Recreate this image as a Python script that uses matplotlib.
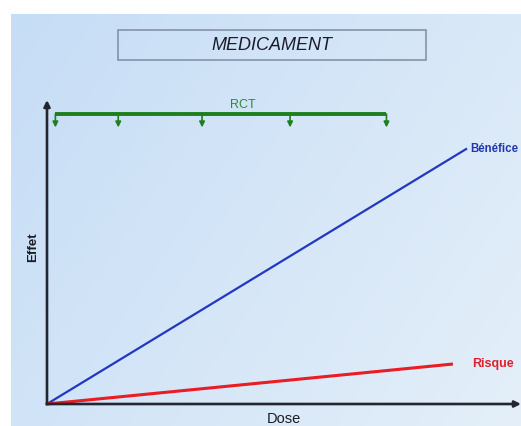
import numpy as np
import matplotlib
matplotlib.use("Agg")
import matplotlib.pyplot as plt
from matplotlib.patches import Rectangle
from matplotlib.colors import to_rgb

plt.rcParams['font.family'] = ['Liberation Sans', 'DejaVu Sans']

# Curves (dose, effect) endpoints starting from the origin
benefit_dose = [0.0, 10.0]
benefit_effect = [0.0, 8.0]
risk_dose = [0.0, 9.65]
risk_effect = [0.0, 1.25]

# Doses studied in randomised controlled trials
rct_doses = [0.2, 1.7, 3.7, 5.8, 8.1]
rct_level = 9.1
rct_drop = 0.42

title = "MEDICAMENT"
x_label = "Dose"
y_label = "Effet"

W, H = 521, 426
fig = plt.figure(figsize=(W / 100, H / 100), dpi=100)
fig.patch.set_facecolor("white")

# Panel background with a soft blue gradient
bg = fig.add_axes([11 / W, 0, 1 - 11 / W, (H - 14) / H])
bg.set_axis_off()
ny, nx = 200, 260
u = np.linspace(0, 1, nx)[None, :]
v = np.linspace(0, 1, ny)[:, None]
t = np.clip(0.65 * u + 0.35 * v, 0, 1)
c0 = np.array(to_rgb("#c6ddf6"))
c1 = np.array(to_rgb("#e4eff9"))
img = c0[None, None, :] + (c1 - c0)[None, None, :] * t[:, :, None]
bg.imshow(img, aspect="auto", extent=[0, 1, 0, 1], origin="upper")
bg.set_xlim(0, 1)
bg.set_ylim(0, 1)

# Title box
fig.patches.append(Rectangle((118 / W, 1 - 60 / H), 308 / W, 30 / H,
                             transform=fig.transFigure, facecolor="none",
                             edgecolor="#8593a8", linewidth=1.2))
fig.text(272 / W, 1 - 45.5 / H, title, ha="center", va="center",
         fontsize=13, style="italic", color="#1c1c2c")

# Main axes: origin at the arrow corner
ax = fig.add_axes([47 / W, (H - 404) / H, (W - 47) / W, (404 - 100) / H])
ax.patch.set_alpha(0)
ax.set_xlim(0, 11.31)
ax.set_ylim(0, 9.54)
for s in ax.spines.values():
    s.set_visible(False)
ax.set_xticks([])
ax.set_yticks([])

axis_col = "#23262f"
ax.annotate("", xy=(1.0, 0), xytext=(0, 0), xycoords="axes fraction",
            arrowprops=dict(arrowstyle="-|>", color=axis_col, lw=1.9,
                            mutation_scale=9, shrinkA=0, shrinkB=0),
            annotation_clip=False)
ax.annotate("", xy=(0, 1.0), xytext=(0, 0), xycoords="axes fraction",
            arrowprops=dict(arrowstyle="-|>", color=axis_col, lw=1.9,
                            mutation_scale=9, shrinkA=0, shrinkB=0),
            annotation_clip=False)

# Benefit and risk lines
ax.plot(benefit_dose, benefit_effect, color="#2238c0", lw=1.6, clip_on=False)
ax.plot(risk_dose, risk_effect, color="#ea1c24", lw=2.2, clip_on=False)
ax.text(benefit_dose[-1] + 0.1, benefit_effect[-1], "Bénéfice",
        color="#2238b0", fontsize=8.3, fontweight="bold", va="center", ha="left")
ax.text(risk_dose[-1] + 0.5, risk_effect[-1], "Risque",
        color="#e0202c", fontsize=9, fontweight="bold", va="center", ha="left")

# RCT range bar with arrows at each trial dose
green = "#1d7f1d"
ax.plot([rct_doses[0], rct_doses[-1]], [rct_level, rct_level],
        color=green, lw=2.8, solid_capstyle="butt", clip_on=False)
for d in rct_doses:
    ax.annotate("", xy=(d, rct_level - rct_drop), xytext=(d, rct_level),
                arrowprops=dict(arrowstyle="-|>", color=green, lw=1.2,
                                mutation_scale=8, shrinkA=0, shrinkB=0),
                annotation_clip=False)
ax.text(4.68, rct_level + 0.08, "RCT",
        color="#2e8a3e", fontsize=9, ha="center", va="bottom")

# Axis labels
fig.text(284 / W, 1 - 419 / H, x_label, ha="center", va="center",
         fontsize=10.5, color="#1c1c24")
fig.text(33 / W, 1 - 247 / H, y_label, ha="center", va="center",
         rotation=90, fontsize=9.5, fontweight="bold", color="#1c1c24")

fig.savefig("out.png", dpi=100)
